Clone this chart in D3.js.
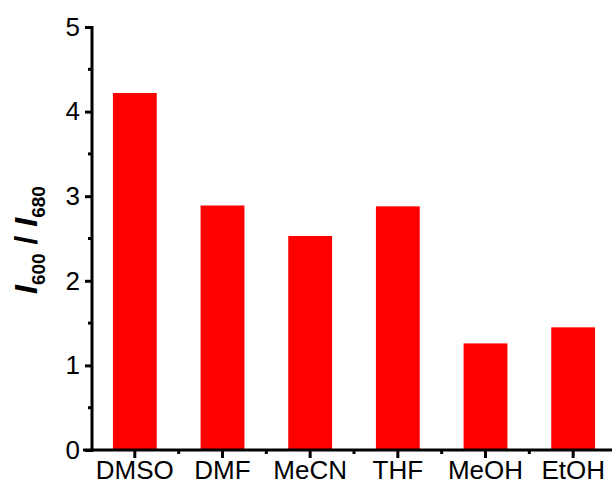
<!DOCTYPE html>
<html>
<head>
<meta charset="utf-8">
<script src="https://cdn.jsdelivr.net/npm/d3@7"></script>
<style>
  body { margin: 0; background: #fff; }
  svg { display: block; font-family: "Liberation Sans", Arial, sans-serif; }
</style>
</head>
<body>
<svg id="svg" width="612" height="491"></svg>
<script>
var solvents = ["DMSO", "DMF", "MeCN", "THF", "MeOH", "EtOH"];
var ratio = [4.22, 2.89, 2.53, 2.88, 1.26, 1.45];
var yTicks = [0, 1, 2, 3, 4, 5];
var yMinor = [0.5, 1.5, 2.5, 3.5, 4.5];

var svg = d3.select("#svg");
var g = svg.append("g");

var x = d3.scaleBand()
    .domain(solvents)
    .range([91, 617])
    .paddingInner(0.5)
    .paddingOuter(0.25);

var y = d3.scaleLinear()
    .domain([0, 5])
    .range([450, 27]);

// bars
g.selectAll("rect.bar")
    .data(solvents)
    .enter().append("rect")
    .attr("class", "bar")
    .attr("x", d => x(d))
    .attr("width", x.bandwidth())
    .attr("y", (d, i) => y(ratio[i]))
    .attr("height", (d, i) => y(0) - y(ratio[i]))
    .attr("fill", "#ff0000");

// y axis
var yAxis = g.append("g")
    .attr("transform", "translate(92,0)")
    .call(d3.axisLeft(y).tickValues(yTicks).tickFormat(d3.format("d")).tickSize(7).tickPadding(5));
yAxis.select(".domain").remove();
yAxis.selectAll(".tick line").attr("stroke", "#000").attr("stroke-width", 3);
yAxis.selectAll(".tick text")
    .style("font-size", "26px")
    .attr("fill", "#000");

g.selectAll("line.ymin")
    .data(yMinor)
    .enter().append("line")
    .attr("class", "ymin")
    .attr("x1", 88).attr("x2", 92)
    .attr("y1", d => y(d)).attr("y2", d => y(d))
    .attr("stroke", "#000").attr("stroke-width", 3);

g.append("line")
    .attr("x1", 92).attr("x2", 92)
    .attr("y1", y(5) - 1).attr("y2", y(0) + 2)
    .attr("stroke", "#000").attr("stroke-width", 3);

// x axis
var xAxis = g.append("g")
    .attr("transform", "translate(0,450)")
    .call(d3.axisBottom(x).tickSize(8).tickPadding(3));
xAxis.select(".domain").remove();
xAxis.selectAll(".tick line").attr("stroke", "#000").attr("stroke-width", 3);
xAxis.selectAll(".tick text")
    .style("font-size", "26px")
    .attr("fill", "#000");

var step = x.step();
g.selectAll("line.xmin")
    .data(d3.range(1, solvents.length + 1))
    .enter().append("line")
    .attr("class", "xmin")
    .attr("x1", d => 91 + d * step).attr("x2", d => 91 + d * step)
    .attr("y1", 450).attr("y2", 454)
    .attr("stroke", "#000").attr("stroke-width", 3);

g.append("line")
    .attr("x1", 83).attr("x2", 612)
    .attr("y1", 450).attr("y2", 450)
    .attr("stroke", "#000").attr("stroke-width", 3);

// y label
var lab = g.append("text")
    .attr("transform", "translate(37,240) rotate(-90)")
    .attr("text-anchor", "middle")
    .attr("fill", "#000")
    .style("font-weight", "bold");
lab.append("tspan").style("font-style", "italic").style("font-size", "32px").text("I");
lab.append("tspan").style("font-size", "19px").attr("dy", 8).text("600");
lab.append("tspan").style("font-size", "32px").attr("dy", -8).text(" / ");
lab.append("tspan").style("font-style", "italic").style("font-size", "32px").text("I");
lab.append("tspan").style("font-size", "19px").attr("dy", 8).text("680");
</script>
</body>
</html>
